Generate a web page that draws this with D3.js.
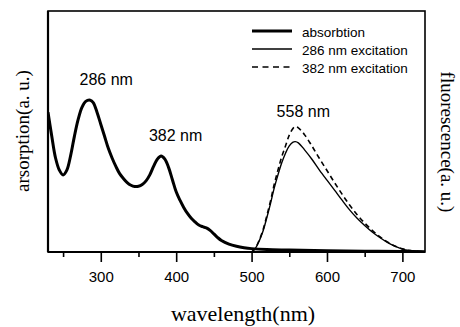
<!DOCTYPE html>
<html>
<head>
<meta charset="utf-8">
<script src="https://cdn.jsdelivr.net/npm/d3@7"></script>
<style>
  html, body { margin: 0; padding: 0; background: #fff; }
  svg { display: block; }
</style>
</head>
<body>
<svg id="chart" width="460" height="327"></svg>
<script>
// ---- data (wavelength nm, arbitrary units) ----
const absWavelength = [230,235,240,245,250,255,260,265,270,275,280,286,290,295,300,305,310,315,320,325,330,335,340,345,350,355,360,365,370,375,380,385,390,395,400,405,410,415,420,425,430,435,440,445,450,455,460,470,480,490,500,520,550,600,650,700,730];
const absValues     = [58,48,39,34,32,34,40,48,55,60,62.5,63,62,58,53,48,43,39,35.5,32.5,30.5,28.8,27.7,27.2,27.3,28,29.5,32,35.5,38.5,39.8,38.5,35,30,25,21.5,18.5,16,14,12.5,11.2,10.5,10,9,7.5,6,4.8,3.3,2.4,1.8,1.4,1.0,0.8,0.5,0.3,0.2,0.1];

const fluWavelength = [500,505,510,515,520,525,530,535,540,545,550,555,558,562,570,580,590,600,610,620,630,640,650,660,670,680,690,700,710,720,730];
const exc286Values  = [0,1.5,4.5,8.5,14,20,26.5,32,37,41,44,45.6,45.8,45.3,42.5,38.5,34,29.8,25.7,21.5,17.5,14,11,8.3,6,4,2.4,1.2,0.6,0.3,0.1];
const exc382Values  = [0,1.6,4.8,9,14.8,21,28,34,39.5,44,48.5,51.3,52,51.5,48.8,44,38.8,33.8,28.8,24,19.5,15.5,12,9,6.4,4.2,2.5,1.3,0.6,0.3,0.1];

const majorTicks = [300,400,500,600,700];
const minorTicks = [250,350,450,550,650];
const seriesNames = ["absorbtion", "286 nm excitation", "382 nm excitation"];
const peakWavelengths = [286, 382, 558];
const peakHeights = [63, 39.8, 52];
const peakTexts = ["286 nm", "382 nm", "558 nm"];

// ---- layout ----
const svg = d3.select("#chart");
const L = 48, R = 425, T = 11, B = 252;
const x = d3.scaleLinear().domain([230, 730]).range([L, R]);
const y = d3.scaleLinear().domain([0, 100]).range([B, T]);
const labelShift = [[16, -15], [13, -15], [8, -10]];

const sans = "'Liberation Sans', Arial, sans-serif";
const serif = "'Liberation Serif', 'Times New Roman', serif";

const line = d3.line().x(d => x(d[0])).y(d => y(d[1])).curve(d3.curveCatmullRom.alpha(0.5));

const absData = absWavelength.map((w, i) => [w, absValues[i]]);
const f286 = fluWavelength.map((w, i) => [w, exc286Values[i]]);
const f382 = fluWavelength.map((w, i) => [w, exc382Values[i]]);

svg.append("clipPath").attr("id", "clip").append("rect")
  .attr("x", L).attr("y", T).attr("width", R - L).attr("height", B - T);

const g = svg.append("g").attr("clip-path", "url(#clip)");
g.append("path").datum(absData).attr("d", line)
  .attr("fill", "none").attr("stroke", "#000").attr("stroke-width", 3).attr("stroke-linejoin", "round");
g.append("path").datum(f286).attr("d", line)
  .attr("fill", "none").attr("stroke", "#000").attr("stroke-width", 1.4);
g.append("path").datum(f382).attr("d", line)
  .attr("fill", "none").attr("stroke", "#000").attr("stroke-width", 1.6).attr("stroke-dasharray", "5,3.5");

// frame
svg.append("rect").attr("x", L).attr("y", T).attr("width", R - L).attr("height", B - T)
  .attr("fill", "none").attr("stroke", "#000").attr("stroke-width", 1.6);
svg.append("line").attr("x1", L).attr("x2", R).attr("y1", B).attr("y2", B)
  .attr("stroke", "#000").attr("stroke-width", 2.2);
svg.append("line").attr("x1", L).attr("x2", L).attr("y1", T).attr("y2", B)
  .attr("stroke", "#000").attr("stroke-width", 2.2);

// bottom axis
const axis = d3.axisBottom(x).tickValues(majorTicks).tickSize(10).tickPadding(9).tickFormat(d3.format("d"));
const ax = svg.append("g").attr("transform", `translate(0,${B})`).call(axis);
ax.select(".domain").remove();
ax.selectAll(".tick line").attr("stroke-width", 1.6);
ax.selectAll(".tick text").attr("font-family", sans).attr("font-size", 15).attr("fill", "#000");
const axMinor = d3.axisBottom(x).tickValues(minorTicks).tickSize(5).tickFormat("");
const axm = svg.append("g").attr("transform", `translate(0,${B})`).call(axMinor);
axm.select(".domain").remove();
axm.selectAll(".tick line").attr("stroke-width", 1.6);

// axis titles
svg.append("text").attr("x", 243).attr("y", 321).attr("text-anchor", "middle")
  .attr("font-family", serif).attr("font-size", 22).text("wavelength(nm)");
svg.append("text").attr("transform", "translate(29,131) rotate(-90)").attr("text-anchor", "middle")
  .attr("font-family", serif).attr("font-size", 19).text("arsorption(a. u.)");
svg.append("text").attr("transform", "translate(441,142) rotate(90)").attr("text-anchor", "middle")
  .attr("font-family", serif).attr("font-size", 19).text("fluorescence(a. u.)");

// peak labels
peakTexts.forEach((t, i) => {
  svg.append("text")
    .attr("x", x(peakWavelengths[i]) + labelShift[i][0])
    .attr("y", y(peakHeights[i]) + labelShift[i][1])
    .attr("text-anchor", "middle").attr("font-family", sans).attr("font-size", 16).text(t);
});

// legend
const legY = [32, 50, 68];
const legStyle = [{w: 3, dash: null}, {w: 1.4, dash: null}, {w: 1.6, dash: "6,4.5"}];
seriesNames.forEach((name, i) => {
  svg.append("line").attr("x1", 252).attr("x2", 292).attr("y1", legY[i] - 1).attr("y2", legY[i] - 1)
    .attr("stroke", "#000").attr("stroke-width", legStyle[i].w)
    .attr("stroke-dasharray", legStyle[i].dash);
  svg.append("text").attr("x", 302).attr("y", legY[i] + 4.5)
    .attr("font-family", sans).attr("font-size", 13.5).text(name);
});
</script>
</body>
</html>
